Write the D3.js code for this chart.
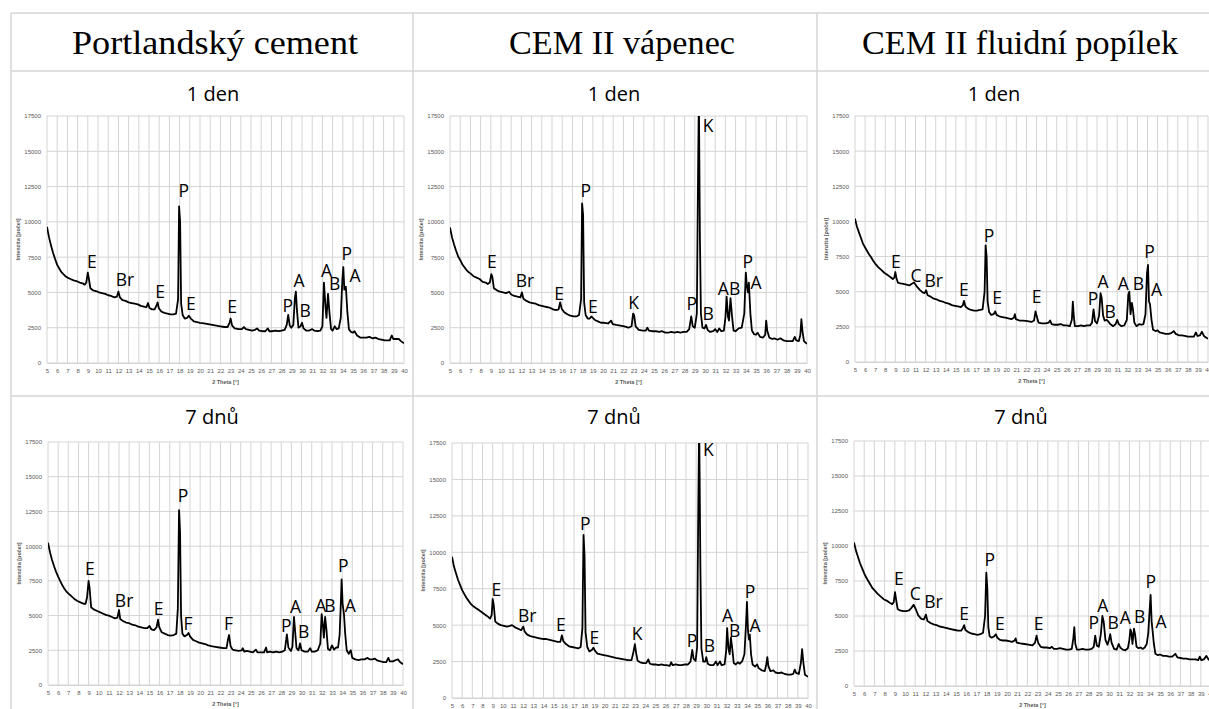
<!DOCTYPE html>
<html>
<head>
<meta charset="utf-8">
<script src="https://cdn.jsdelivr.net/npm/d3@7"></script>
<style>
  body { margin: 0; background: #fff; }
  svg { display: block; }
</style>
</head>
<body>
<svg id="fig" width="1209" height="709"></svg>
<script>
// --- hlavicky tabulky ---
const cementNames = ['Portlandský cement', 'CEM II vápenec', 'CEM II fluidní popílek']
const ageNames = ['1 den', '7 dnů']

// --- osy ---
const thetaTicks = [5,6,7,8,9,10,11,12,13,14,15,16,17,18,19,20,21,22,23,24,25,26,27,28,29,30,31,32,33,34,35,36,37,38,39,40]
const countTicks = [0, 2500, 5000, 7500, 10000, 12500, 15000, 17500]

// --- difraktogramy [2 theta, intenzita] ---
const portland1 = [[5.0,9650],[5.2,8900],[5.4,8300],[5.6,7800],[5.8,7350],[6.0,6950],[6.2,6700],[6.4,6450],[6.6,6300],[6.8,6150],[7.0,6050],[7.3,5950],[7.6,5850],[7.9,5800],[8.2,5700],[8.5,5650],[8.7,5550],[8.85,5700],[9.0,6400],[9.1,6000],[9.25,5300],[9.5,5150],[9.8,5100],[10.1,5000],[10.4,4950],[10.7,4900],[11.0,4800],[11.3,4750],[11.6,4650],[11.85,4700],[12.0,5050],[12.15,4650],[12.4,4450],[12.7,4400],[13.0,4300],[13.3,4250],[13.6,4200],[13.9,4150],[14.2,4050],[14.5,4000],[14.75,3950],[14.9,4250],[15.05,3900],[15.3,3800],[15.55,3800],[15.75,4100],[15.85,4300],[15.95,3900],[16.2,3650],[16.5,3550],[16.8,3500],[17.1,3450],[17.4,3450],[17.65,3500],[17.85,4500],[17.95,11100],[18.05,10000],[18.15,4200],[18.3,3400],[18.5,3150],[18.75,3200],[18.9,3350],[19.1,3150],[19.4,2950],[19.7,2900],[20.0,2850],[20.4,2800],[20.8,2750],[21.2,2700],[21.6,2650],[22.0,2600],[22.4,2550],[22.7,2550],[22.9,2850],[23.0,3150],[23.15,2650],[23.4,2450],[23.8,2400],[24.1,2400],[24.3,2550],[24.5,2400],[24.8,2350],[25.1,2300],[25.4,2350],[25.6,2450],[25.8,2300],[26.1,2250],[26.4,2250],[26.65,2450],[26.8,2250],[27.1,2250],[27.4,2300],[27.7,2250],[28.0,2300],[28.3,2350],[28.5,2700],[28.65,3400],[28.8,2650],[28.95,2500],[29.15,2700],[29.3,4600],[29.4,5050],[29.5,3800],[29.65,2500],[29.85,2600],[30.0,2850],[30.15,2450],[30.4,2300],[30.7,2300],[31.0,2400],[31.2,2300],[31.5,2250],[31.8,2300],[32.0,2600],[32.15,5700],[32.3,4000],[32.4,3200],[32.55,4900],[32.7,3500],[32.85,2400],[33.0,2300],[33.2,2600],[33.4,2400],[33.6,2450],[33.8,3200],[33.95,5800],[34.05,6800],[34.15,5200],[34.3,5400],[34.45,3600],[34.6,2400],[34.8,2200],[35.0,2150],[35.15,2250],[35.4,1950],[35.7,1800],[36.0,1800],[36.3,1800],[36.6,1850],[36.9,1750],[37.2,1800],[37.5,1700],[37.8,1650],[38.1,1600],[38.4,1600],[38.6,1600],[38.8,1950],[38.95,1700],[39.2,1700],[39.5,1700],[39.7,1550],[40.0,1400]]

const vapenec1 = [[5.0,9600],[5.2,8900],[5.4,8400],[5.6,7950],[5.8,7550],[6.0,7300],[6.2,7000],[6.4,6800],[6.6,6600],[6.8,6450],[7.0,6350],[7.3,6150],[7.6,6050],[7.9,5950],[8.2,5750],[8.5,5700],[8.7,5600],[8.9,5700],[9.05,6300],[9.15,6100],[9.3,5300],[9.6,5150],[9.9,5050],[10.2,5000],[10.5,4950],[10.8,5050],[11.0,4850],[11.3,4750],[11.6,4700],[11.9,4650],[12.05,5000],[12.2,4550],[12.5,4400],[12.8,4300],[13.1,4250],[13.4,4200],[13.7,4100],[14.0,4050],[14.3,4000],[14.6,3950],[14.85,3900],[15.1,3800],[15.4,3750],[15.65,3800],[15.8,4300],[15.95,3850],[16.2,3600],[16.5,3450],[16.8,3350],[17.1,3300],[17.4,3300],[17.65,3400],[17.85,4500],[17.95,11300],[18.05,10500],[18.15,4300],[18.3,3400],[18.5,3150],[18.7,3150],[18.85,3300],[19.0,3200],[19.2,3050],[19.5,2950],[19.8,2850],[20.1,2850],[20.5,2800],[20.8,3000],[20.95,2750],[21.3,2700],[21.7,2650],[22.1,2600],[22.5,2500],[22.8,2600],[22.95,3500],[23.05,3400],[23.2,2600],[23.5,2350],[23.9,2300],[24.2,2300],[24.35,2500],[24.5,2300],[24.8,2250],[25.2,2250],[25.5,2200],[25.8,2250],[26.1,2150],[26.4,2150],[26.7,2200],[27.0,2150],[27.3,2200],[27.6,2150],[27.9,2200],[28.2,2200],[28.45,2400],[28.65,3300],[28.8,2600],[29.0,2500],[29.2,3500],[29.3,12000],[29.4,19000],[29.5,9000],[29.6,3500],[29.75,2500],[29.95,2450],[30.1,2700],[30.25,2350],[30.5,2200],[30.8,2250],[31.0,2400],[31.2,2200],[31.4,2450],[31.6,2250],[31.85,2300],[32.0,3200],[32.12,4700],[32.25,3300],[32.35,3000],[32.5,4600],[32.65,3300],[32.8,2300],[33.0,2250],[33.3,2450],[33.6,2500],[33.85,3500],[34.0,6400],[34.1,5500],[34.2,5000],[34.3,5700],[34.45,3500],[34.6,2300],[34.8,2050],[35.0,2000],[35.15,2150],[35.4,1850],[35.7,1800],[35.9,2000],[36.0,3000],[36.1,2300],[36.3,1800],[36.6,1700],[36.8,1750],[37.1,1650],[37.4,1750],[37.7,1600],[38.0,1550],[38.3,1550],[38.6,1550],[38.8,1850],[38.95,1600],[39.2,1550],[39.35,2000],[39.45,3100],[39.55,2300],[39.7,1550],[40.0,1350]]

const fluid1 = [[5.0,10200],[5.2,9600],[5.4,9200],[5.6,8800],[5.8,8400],[6.0,8150],[6.2,7900],[6.4,7650],[6.6,7450],[6.8,7200],[7.0,7000],[7.3,6750],[7.6,6550],[7.9,6350],[8.2,6200],[8.5,6050],[8.75,5900],[8.9,6000],[9.0,6400],[9.1,6000],[9.25,5650],[9.5,5600],[9.8,5550],[10.1,5500],[10.4,5450],[10.6,5550],[10.85,5650],[11.1,5400],[11.4,5150],[11.7,4950],[11.9,4900],[12.05,5100],[12.2,4750],[12.5,4650],[12.8,4500],[13.1,4450],[13.4,4350],[13.7,4300],[14.0,4200],[14.3,4150],[14.6,4050],[14.9,4000],[15.2,3950],[15.5,3900],[15.7,4050],[15.8,4350],[15.95,3950],[16.2,3800],[16.5,3700],[16.8,3650],[17.1,3650],[17.4,3700],[17.65,3750],[17.85,5000],[17.95,8300],[18.05,7500],[18.15,4300],[18.3,3550],[18.5,3350],[18.75,3400],[18.9,3600],[19.05,3350],[19.3,3250],[19.6,3200],[19.9,3150],[20.2,3100],[20.5,3050],[20.75,3150],[20.85,3400],[20.95,3050],[21.3,2950],[21.7,2950],[22.1,2900],[22.5,2850],[22.75,2950],[22.9,3600],[23.0,3300],[23.2,2800],[23.5,2750],[23.9,2750],[24.2,2800],[24.35,2950],[24.5,2700],[24.8,2650],[25.1,2650],[25.4,2700],[25.7,2600],[26.0,2600],[26.3,2550],[26.5,3000],[26.6,4300],[26.7,3200],[26.8,2550],[27.1,2550],[27.4,2600],[27.7,2550],[28.0,2600],[28.3,2600],[28.5,2800],[28.65,3750],[28.8,2900],[29.0,2750],[29.2,3300],[29.35,4900],[29.45,4600],[29.6,3300],[29.75,2950],[29.95,3000],[30.1,2900],[30.3,2700],[30.6,2550],[30.85,2700],[31.0,3000],[31.15,2700],[31.4,2550],[31.7,2600],[31.95,3000],[32.1,4800],[32.2,5000],[32.32,3400],[32.45,4200],[32.55,3800],[32.7,2800],[32.9,2550],[33.2,2700],[33.4,2650],[33.6,2700],[33.8,3400],[33.95,6300],[34.05,6900],[34.15,4300],[34.25,4100],[34.4,3000],[34.55,2300],[34.8,2200],[35.0,2250],[35.2,2100],[35.5,2050],[35.8,2000],[36.1,2000],[36.35,2050],[36.6,2200],[36.8,2000],[37.1,1900],[37.4,1900],[37.7,1850],[38.0,1800],[38.3,1800],[38.6,1800],[38.8,2100],[38.95,1850],[39.2,1900],[39.4,2150],[39.6,1850],[39.8,1750],[40.0,1650]]

const portland7 = [[5.0,10250],[5.2,9550],[5.4,9000],[5.6,8550],[5.8,8150],[6.0,7800],[6.2,7500],[6.4,7200],[6.6,6950],[6.8,6750],[7.0,6600],[7.3,6400],[7.6,6200],[7.9,6050],[8.2,5950],[8.5,5850],[8.7,5850],[8.85,6300],[9.0,7500],[9.1,7000],[9.25,5600],[9.5,5450],[9.8,5350],[10.1,5250],[10.4,5150],[10.7,5050],[11.0,5000],[11.3,4900],[11.6,4800],[11.85,4850],[12.0,5400],[12.12,4750],[12.4,4600],[12.7,4500],[13.0,4450],[13.3,4350],[13.6,4300],[13.9,4200],[14.2,4150],[14.5,4100],[14.8,4100],[15.0,4250],[15.2,4000],[15.45,3950],[15.7,4150],[15.85,4700],[15.95,4200],[16.2,3800],[16.5,3700],[16.8,3600],[17.1,3550],[17.4,3600],[17.65,3700],[17.8,5500],[17.92,12600],[18.02,11000],[18.12,5000],[18.25,3700],[18.45,3500],[18.7,3600],[18.85,3750],[19.0,3500],[19.3,3250],[19.6,3150],[19.9,3050],[20.2,3000],[20.5,2950],[20.8,2850],[21.1,2800],[21.5,2750],[21.9,2700],[22.3,2650],[22.6,2650],[22.75,3300],[22.85,3600],[23.0,2800],[23.2,2550],[23.5,2500],[23.8,2450],[24.1,2500],[24.2,2650],[24.35,2400],[24.6,2450],[24.9,2400],[25.2,2350],[25.5,2550],[25.65,2350],[26.0,2350],[26.3,2350],[26.5,2700],[26.6,2350],[26.9,2400],[27.2,2350],[27.5,2400],[27.8,2350],[28.1,2400],[28.35,2500],[28.55,3650],[28.7,2700],[28.95,2450],[29.1,2750],[29.25,4900],[29.35,4000],[29.5,2650],[29.7,2500],[29.85,3000],[30.0,2500],[30.3,2400],[30.6,2400],[30.85,2650],[31.0,2400],[31.3,2400],[31.6,2500],[31.85,3000],[31.98,5100],[32.1,4300],[32.2,3400],[32.32,4900],[32.45,4000],[32.6,2600],[32.8,2500],[33.0,2850],[33.2,2550],[33.4,2700],[33.6,2700],[33.75,3600],[33.85,5500],[33.95,7600],[34.05,5800],[34.18,5100],[34.3,3700],[34.45,2500],[34.65,2250],[34.85,2500],[35.0,1950],[35.3,1850],[35.6,1800],[35.9,1850],[36.2,1850],[36.5,1950],[36.7,1850],[37.0,1850],[37.2,1900],[37.5,1750],[37.8,1700],[38.1,1650],[38.35,1650],[38.55,1950],[38.7,1700],[39.0,1700],[39.3,1800],[39.5,1850],[39.7,1650],[40.0,1500]]

const vapenec7 = [[5.0,9700],[5.2,9000],[5.4,8550],[5.6,8100],[5.8,7750],[6.0,7400],[6.2,7150],[6.4,6900],[6.6,6700],[6.8,6500],[7.0,6350],[7.3,6200],[7.6,6050],[7.9,5900],[8.2,5750],[8.5,5600],[8.75,5450],[8.9,5700],[9.0,6800],[9.1,6400],[9.25,5250],[9.5,5100],[9.8,5000],[10.1,4950],[10.4,4900],[10.7,4950],[10.9,5000],[11.2,4850],[11.5,4750],[11.8,4650],[12.0,4900],[12.15,4550],[12.4,4350],[12.7,4250],[13.0,4200],[13.3,4150],[13.6,4100],[13.9,4050],[14.2,4050],[14.5,4000],[14.8,3950],[15.1,3900],[15.4,3850],[15.65,3850],[15.8,4300],[15.95,3900],[16.2,3700],[16.5,3550],[16.8,3500],[17.1,3450],[17.4,3400],[17.65,3500],[17.82,4800],[17.93,11200],[18.03,9800],[18.13,4500],[18.3,3500],[18.5,3200],[18.75,3300],[18.9,3450],[19.05,3250],[19.3,3050],[19.6,3000],[19.9,2950],[20.2,2900],[20.5,2850],[20.8,2800],[21.1,2750],[21.5,2700],[21.9,2650],[22.3,2600],[22.65,2600],[22.85,3200],[22.98,3700],[23.1,3100],[23.25,2550],[23.5,2450],[23.8,2400],[24.1,2400],[24.3,2650],[24.45,2350],[24.7,2300],[25.0,2300],[25.3,2250],[25.6,2300],[25.85,2250],[26.1,2250],[26.4,2200],[26.55,2450],[26.7,2250],[27.0,2300],[27.3,2250],[27.6,2250],[27.9,2300],[28.2,2300],[28.45,2500],[28.62,3300],[28.75,2700],[28.95,2550],[29.1,3500],[29.2,12000],[29.3,19000],[29.42,9000],[29.52,3400],[29.7,2500],[29.9,2500],[30.0,2800],[30.15,2350],[30.4,2250],[30.7,2250],[30.95,2500],[31.1,2250],[31.35,2500],[31.5,2250],[31.8,2300],[31.95,3200],[32.05,4800],[32.18,3400],[32.3,3000],[32.42,4150],[32.55,3400],[32.7,2400],[32.9,2300],[33.1,2450],[33.3,2350],[33.55,2550],[33.75,3000],[33.9,5000],[34.0,6600],[34.1,4600],[34.2,4000],[34.28,4350],[34.4,3000],[34.55,2300],[34.8,2150],[35.0,2300],[35.15,2050],[35.45,1900],[35.75,1850],[35.9,2300],[36.0,2800],[36.1,2200],[36.3,1850],[36.6,1900],[36.8,1750],[37.1,1700],[37.4,1750],[37.7,1650],[38.0,1600],[38.3,1600],[38.55,1650],[38.7,1950],[38.85,1700],[39.1,1650],[39.3,2400],[39.42,3350],[39.55,2400],[39.7,1600],[40.0,1450]]

const fluid7 = [[5.0,10250],[5.2,9650],[5.4,9200],[5.6,8750],[5.8,8400],[6.0,8050],[6.2,7750],[6.4,7500],[6.6,7250],[6.8,7000],[7.0,6850],[7.3,6600],[7.6,6400],[7.9,6200],[8.2,6100],[8.5,5950],[8.75,5850],[8.9,6000],[9.02,6700],[9.12,6200],[9.28,5500],[9.5,5400],[9.8,5350],[10.1,5350],[10.4,5400],[10.65,5600],[10.85,5800],[11.05,5500],[11.3,5050],[11.6,4800],[11.85,4750],[12.05,5100],[12.2,4650],[12.5,4500],[12.8,4400],[13.1,4350],[13.4,4250],[13.7,4200],[14.0,4150],[14.3,4100],[14.6,4050],[14.9,4000],[15.2,3950],[15.5,3950],[15.68,4150],[15.8,4350],[15.92,4000],[16.2,3850],[16.5,3750],[16.8,3700],[17.1,3650],[17.4,3700],[17.65,3800],[17.85,5000],[17.97,8100],[18.07,7000],[18.17,4200],[18.3,3550],[18.5,3450],[18.75,3550],[18.9,3700],[19.05,3450],[19.3,3300],[19.6,3250],[19.9,3250],[20.2,3200],[20.5,3150],[20.75,3250],[20.85,3400],[20.95,3100],[21.3,3050],[21.7,3000],[22.1,2950],[22.5,2900],[22.75,3100],[22.9,3600],[23.05,3100],[23.3,2800],[23.6,2750],[23.9,2750],[24.2,2700],[24.4,2800],[24.6,2650],[24.9,2650],[25.2,2700],[25.5,2650],[25.8,2600],[26.1,2600],[26.35,2650],[26.5,3400],[26.6,4200],[26.7,3000],[26.85,2600],[27.1,2600],[27.4,2650],[27.7,2600],[28.0,2600],[28.3,2650],[28.5,2800],[28.65,3600],[28.8,2900],[29.0,2800],[29.2,3700],[29.35,5000],[29.48,4600],[29.65,3300],[29.85,2950],[30.0,3300],[30.12,3700],[30.25,3100],[30.5,2650],[30.75,2600],[30.95,3000],[31.1,2750],[31.35,2600],[31.6,2550],[31.85,2700],[32.0,3300],[32.1,4050],[32.2,3800],[32.3,3000],[32.45,4100],[32.55,3700],[32.7,2800],[32.9,2700],[33.1,2750],[33.3,2650],[33.5,2750],[33.7,3000],[33.85,3800],[34.0,5600],[34.08,6500],[34.18,4600],[34.28,3900],[34.4,3000],[34.55,2300],[34.8,2200],[35.0,2250],[35.3,2150],[35.6,2150],[35.9,2100],[36.2,2100],[36.5,2300],[36.7,2050],[37.0,2000],[37.3,1950],[37.6,1950],[37.9,1900],[38.2,1900],[38.5,1900],[38.75,1850],[38.9,2100],[39.05,1850],[39.3,1900],[39.55,2150],[39.75,1900],[40.0,1750]]

// --- popisky fazi [text, 2 theta, intenzita] ---
const portland1Labels = [['E',9.4,6730],['Br',12.65,5450],['E',16.1,4600],['P',18.4,11760],['E',19.1,3750],['E',23.15,3540],['P',28.6,3610],['A',29.7,5380],['B',30.3,3260],['A',32.4,6090],['B',33.2,5170],['P',34.4,7300],['A',35.2,5730]]
const vapenec1Labels = [['E',9.1,6730],['Br',12.35,5380],['E',15.7,4460],['P',18.3,11760],['E',19.0,3540],['K',23.0,3820],['P',28.7,3750],['K',30.3,16360],['B',30.3,3050],['A',31.8,4820],['B',32.9,4820],['P',34.2,6730],['A',35.0,5240]]
const fluid1Labels = [['E',9.06,6680],['C',11.05,5720],['Br',12.8,5370],['E',15.8,4660],['P',18.3,8570],['E',19.1,4140],['E',23.0,4190],['P',28.6,4070],['A',29.6,5250],['B',30.3,3120],['A',31.6,5130],['B',33.1,5130],['P',34.2,7380],['A',34.9,4660]]
const portland7Labels = [['E',9.14,7920],['Br',12.5,5640],['E',15.9,5040],['P',18.3,13200],['F',18.8,3960],['F',22.8,3960],['P',28.5,3840],['A',29.4,5170],['B',30.2,3360],['A',31.9,5280],['B',32.8,5280],['P',34.1,8160],['A',34.8,5280]]
const vapenec7Labels = [['E',9.35,6980],['Br',12.4,5190],['E',15.7,4600],['P',18.1,11500],['E',19.0,3690],['K',23.2,4000],['P',28.6,3520],['K',30.2,16620],['B',30.3,3170],['A',32.1,5190],['B',32.8,4170],['P',34.3,6860],['A',34.8,4550]]
const fluid7Labels = [['E',9.4,7210],['C',11.0,6140],['Br',12.8,5550],['E',15.8,4710],['P',18.3,8570],['E',19.3,4000],['E',23.1,4000],['P',28.5,4050],['A',29.4,5310],['B',30.4,4050],['A',31.6,4430],['B',33.0,4520],['P',34.1,6980],['A',35.1,4120]]

// rozmisteni grafu (plocha grafu v pixelech)
const panels = [
  { data: portland1, labels: portland1Labels, x0: 47, x1: 404, top: 116, bottom: 363 },
  { data: vapenec1, labels: vapenec1Labels, x0: 450, x1: 807, top: 116, bottom: 363 },
  { data: fluid1, labels: fluid1Labels, x0: 855, x1: 1208, top: 116, bottom: 362 },
  { data: portland7, labels: portland7Labels, x0: 48, x1: 403, top: 442, bottom: 685 },
  { data: vapenec7, labels: vapenec7Labels, x0: 452, x1: 808, top: 443, bottom: 698 },
  { data: fluid7, labels: fluid7Labels, x0: 854, x1: 1211, top: 441, bottom: 686 }
]

const svg = d3.select('#fig')
const lineColor = '#d6d6d6'

// --- tabulka ---
const table = svg.append('g')
table.append('line').attr('x1', 11).attr('x2', 1209).attr('y1', 13).attr('y2', 13)
table.append('line').attr('x1', 11).attr('x2', 1209).attr('y1', 71).attr('y2', 71)
table.append('line').attr('x1', 11).attr('x2', 1209).attr('y1', 396).attr('y2', 396)
table.append('line').attr('x1', 11).attr('x2', 11).attr('y1', 13).attr('y2', 709)
table.append('line').attr('x1', 413).attr('x2', 413).attr('y1', 13).attr('y2', 709)
table.append('line').attr('x1', 817).attr('x2', 817).attr('y1', 13).attr('y2', 709)
table.selectAll('line').attr('stroke', lineColor).attr('stroke-width', 1.5)

const headerX = [215, 622, 1020]
const headerW = [286, 226, 316]
svg.selectAll('.hdr')
  .data(cementNames)
  .enter()
  .append('text')
  .attr('class', 'hdr')
  .attr('x', (d, i) => headerX[i])
  .attr('y', 54)
  .attr('text-anchor', 'middle')
  .attr('textLength', (d, i) => headerW[i])
  .attr('lengthAdjust', 'spacingAndGlyphs')
  .style('font-family', '"Liberation Serif", serif')
  .style('font-size', '33px')
  .style('fill', '#000')
  .text(d => d)

const dayX = [[213, 614, 994], [212, 614, 1021]]
const dayY = [101, 424]
ageNames.forEach((age, r) => {
  dayX[r].forEach(x => {
    svg.append('text')
      .attr('x', x)
      .attr('y', dayY[r])
      .attr('text-anchor', 'middle')
      .style('font-family', '"Open Sans", sans-serif')
      .style('font-size', '20px')
      .style('fill', '#000')
      .text(age)
  })
})

// --- grafy ---
panels.forEach((p, i) => {
  const x = d3.scaleLinear().domain([5, 40]).range([p.x0, p.x1])
  const y = d3.scaleLinear().domain([0, 17500]).range([p.bottom, p.top])
  const g = svg.append('g')

  // mrizka
  g.selectAll('.vg').data(thetaTicks).enter().append('line')
    .attr('x1', d => x(d)).attr('x2', d => x(d))
    .attr('y1', p.top).attr('y2', p.bottom)
    .attr('stroke', '#d4d4d4').attr('stroke-width', 1)
  g.selectAll('.hg').data(countTicks).enter().append('line')
    .attr('x1', p.x0).attr('x2', p.x1)
    .attr('y1', d => y(d)).attr('y2', d => y(d))
    .attr('stroke', '#d4d4d4').attr('stroke-width', 1)

  // osy
  const ax = g.append('g')
    .attr('transform', 'translate(0,' + p.bottom + ')')
    .call(d3.axisBottom(x).tickValues(thetaTicks).tickSize(0).tickPadding(6))
  const ay = g.append('g')
    .attr('transform', 'translate(' + p.x0 + ',0)')
    .call(d3.axisLeft(y).tickValues(countTicks).tickSize(0).tickPadding(6).tickFormat(d3.format('d')))
  ax.select('.domain').attr('stroke', '#d4d4d4')
  ay.select('.domain').remove()
  g.selectAll('.tick text')
    .style('font-family', '"Liberation Sans", sans-serif')
    .style('font-size', '6px')
    .style('fill', '#595959')

  g.append('text')
    .attr('x', (p.x0 + p.x1) / 2)
    .attr('y', p.bottom + 21)
    .attr('text-anchor', 'middle')
    .style('font-family', '"Liberation Sans", sans-serif')
    .style('font-size', '5.5px')
    .style('font-weight', 'bold')
    .style('fill', '#595959')
    .text('2 Theta [°]')
  g.append('text')
    .attr('transform', 'translate(' + (p.x0 - 27) + ',' + ((p.top + p.bottom) / 2) + ') rotate(-90)')
    .attr('text-anchor', 'middle')
    .style('font-family', '"Liberation Sans", sans-serif')
    .style('font-size', '5.5px')
    .style('font-weight', 'bold')
    .style('fill', '#595959')
    .text('Intenzita [počet]')

  // krivka
  g.append('clipPath').attr('id', 'clip' + i)
    .append('rect')
    .attr('x', p.x0).attr('y', p.top)
    .attr('width', p.x1 - p.x0).attr('height', p.bottom - p.top)
  const line = d3.line().x(d => x(d[0])).y(d => y(d[1]))
  g.append('path')
    .datum(p.data)
    .attr('clip-path', 'url(#clip' + i + ')')
    .attr('d', line)
    .attr('fill', 'none')
    .attr('stroke', '#000')
    .attr('stroke-width', 1.8)
    .attr('stroke-linejoin', 'round')

  // popisky fazi
  g.selectAll('.lbl').data(p.labels).enter().append('text')
    .attr('x', d => x(d[1]))
    .attr('y', d => y(d[2]))
    .attr('text-anchor', 'middle')
    .style('font-family', '"Open Sans", sans-serif')
    .style('font-size', '17.5px')
    .style('fill', '#000')
    .text(d => d[0])
})
</script>
</body>
</html>
